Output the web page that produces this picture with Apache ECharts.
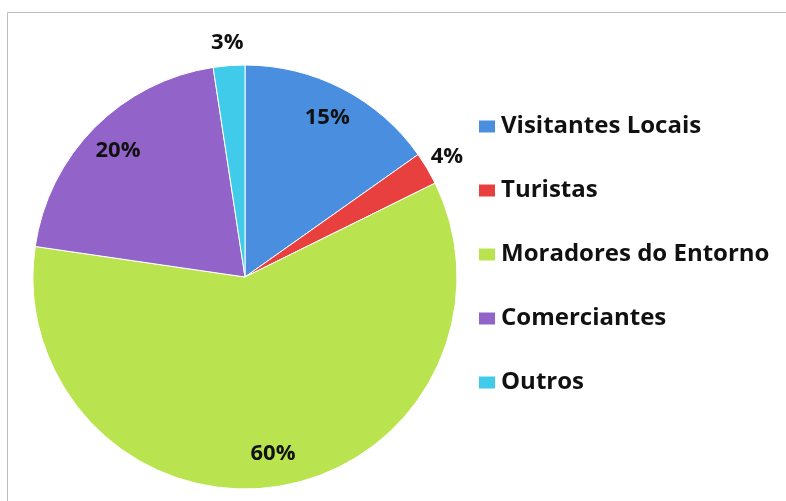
<!DOCTYPE html>
<html>
<head>
<meta charset="utf-8">
<script src="https://cdn.jsdelivr.net/npm/echarts@6/dist/echarts.min.js"></script>
<style>
  html, body { margin: 0; padding: 0; background: #fff; }
  #main { width: 786px; height: 501px; }
</style>
</head>
<body>
<div id="main"></div>
<script>
// categorias e valores
var categories = ["Visitantes Locais", "Turistas", "Moradores do Entorno", "Comerciantes", "Outros"];
var values = [15.2, 2.5, 59.6, 20.3, 2.4];
var labels = ["15%", "4%", "60%", "20%", "3%"];
var colors = ["#4a8ee0", "#e8403f", "#bae44f", "#9264c9", "#3fcbe9"];
// rótulos que ficam fora da pizza
var outsideIdx = [1, 4];

var center = [245, 277];
var R = 212;

function pieData(showFn) {
  return categories.map(function (name, i) {
    return { name: name, value: values[i], label: { show: showFn(i) } };
  });
}

var labelStyle = {
  position: "inside",
  color: "#111",
  fontFamily: "Open Sans",
  fontWeight: "bold",
  fontSize: 22,
  formatter: function (p) { return labels[p.dataIndex]; }
};

var myChart = echarts.init(document.getElementById("main"));
var option = {
  color: colors,
  animation: false,
  graphic: [{
    type: "rect",
    shape: { x: 7.5, y: 12.5, width: 820, height: 520 },
    style: { fill: "none", stroke: "#bdbdbd", lineWidth: 1 }
  }],
  legend: {
    orient: "vertical",
    left: 472,
    top: 108,
    itemWidth: 18,
    itemHeight: 14,
    itemGap: 37,
    icon: "rect",
    data: categories,
    textStyle: {
      fontFamily: "Open Sans",
      fontWeight: "bold",
      fontSize: 24,
      lineHeight: 27,
      color: "#111"
    }
  },
  series: [
    {
      type: "pie",
      center: center,
      radius: R,
      startAngle: 90,
      label: { show: false },
      labelLine: { show: false },
      itemStyle: { borderColor: "#fff", borderWidth: 1 },
      data: categories.map(function (name, i) { return { name: name, value: values[i] }; })
    },
    {
      // anel transparente só para os rótulos internos
      type: "pie",
      center: center,
      radius: [140, R],
      startAngle: 90,
      silent: true,
      itemStyle: { color: "transparent" },
      label: labelStyle,
      labelLine: { show: false },
      data: pieData(function (i) { return outsideIdx.indexOf(i) < 0; })
    },
    {
      // anel transparente para os rótulos das fatias pequenas
      type: "pie",
      center: center,
      radius: [R, R + 40],
      startAngle: 90,
      silent: true,
      itemStyle: { color: "transparent" },
      label: labelStyle,
      labelLine: { show: false },
      data: pieData(function (i) { return outsideIdx.indexOf(i) >= 0; })
    }
  ]
};
myChart.setOption(option);
</script>
</body>
</html>
